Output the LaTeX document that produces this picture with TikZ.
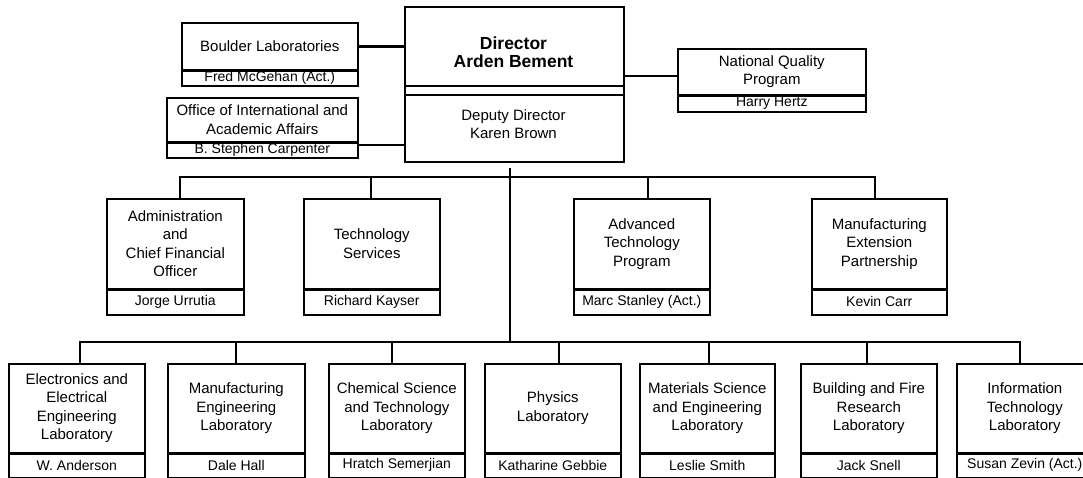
\documentclass[tikz,border=0pt]{standalone}
\usepackage{fontspec}
\setmainfont{Liberation Sans}
\tikzset{
  ttl/.style={draw, line width=1.6pt, align=center, inner sep=0pt, anchor=north west, font=\fontsize{15}{18.5}\selectfont},
  nm/.style={draw, line width=1.6pt, inner sep=0pt, anchor=north west, font=\fontsize{14}{16}\selectfont},
  divl/.style={line width=2.8pt},
  conn/.style={line width=2.4pt},
  txt/.style={align=center, inner sep=0pt, font=\fontsize{15}{18.5}\selectfont},
}
\newcommand\obox[8]{%
  \node[ttl, minimum width={(#4-#2)*1pt}, minimum height={(#5-#3)*1pt}] (#1) at (#2,#3) {#7};
  \node[nm, minimum width={(#4-#2)*1pt}, minimum height={(#6-#5)*1pt}] (#1n) at (#2,#5) {#8};
  \draw[divl] (#1.south west) -- (#1.south east);
}
\begin{document}
\begin{tikzpicture}[x=1pt, y=-1pt]
\useasboundingbox (0,0) rectangle (1083,478);
\fill[white] (0,0) rectangle (1083,478);
\clip (0,0) rectangle (1083,478);

% Director
\node[draw, line width=1.6pt, minimum width=219pt, minimum height=155pt, anchor=north west, inner sep=0pt] (dir) at (404,6) {};
\draw[line width=1.4pt] (404,86) -- (623,86);
\draw[line width=2.4pt] (404,95) -- (623,95);
\node[txt, font=\fontsize{17.5}{18}\selectfont\bfseries] (dirn) at (513.5,52) {Director\\Arden Bement};
\node[txt] (dep) at (513.5,124) {Deputy Director\\Karen Brown};

% side boxes
\obox{bl}{181}{22}{357}{69}{85}{Boulder Laboratories}{Fred McGehan (Act.)}
\obox{oia}{166}{97}{357}{141}{157}{Office of International and\\Academic Affairs}{B. Stephen Carpenter}
\obox{nqp}{677}{48}{865}{94}{111}{National Quality\\Program}{Harry Hertz}

% middle row
\obox{adm}{106}{198}{243}{288}{314}{Administration\\and\\Chief Financial\\Officer}{Jorge Urrutia}
\obox{ts}{303}{198}{439}{288}{314}{Technology\\Services}{Richard Kayser}
\obox{atp}{573}{198}{709}{288}{314}{Advanced\\Technology\\Program}{Marc Stanley (Act.)}
\obox{mep}{811}{198}{946}{288}{314}{Manufacturing\\Extension\\Partnership}{Kevin Carr}

% bottom row
\obox{eeel}{8}{363}{144}{452}{477}{Electronics and\\Electrical\\Engineering\\Laboratory}{W. Anderson}
\obox{mel}{167}{363}{304}{452}{477}{Manufacturing\\Engineering\\Laboratory}{Dale Hall}
\obox{cstl}{328}{363}{464}{452}{477}{Chemical Science\\and Technology\\Laboratory}{Hratch Semerjian}
\obox{pl}{484}{363}{620}{452}{477}{Physics\\Laboratory}{Katharine Gebbie}
\obox{msel}{639}{363}{774}{452}{477}{Materials Science\\and Engineering\\Laboratory}{Leslie Smith}
\obox{bfrl}{800}{363}{936}{452}{477}{Building and Fire\\Research\\Laboratory}{Jack Snell}
\obox{itl}{956}{363}{1092}{452}{477}{Information\\Technology\\Laboratory}{Susan Zevin (Act.)}

% side connectors
\draw[line width=3pt] (bl.east) -- (bl.east -| dir.west);
\coordinate (o1) at ([yshift=-2pt]oia.south east);
\draw[line width=2pt] (o1) -- (o1 -| dir.west);
\coordinate (q1) at ([yshift=-4pt]nqp.west);
\draw[line width=1.6pt] (q1) -- (q1 -| dir.east);

% trunk and buses
\coordinate (tt) at (510,168);
\coordinate (mb) at (510,177);
\coordinate (lb) at (510,342);
\draw[conn] (tt) -- (lb);

\draw[conn] ([xshift=4.5pt]adm.north) |- (mb);
\draw[conn] ([xshift=-1pt]ts.north) |- (mb);
\draw[conn] ([xshift=6pt]atp.north) |- (mb);
\draw[conn] ([xshift=-4.5pt]mep.north) |- (mb);

\draw[conn] ([xshift=3pt]eeel.north) |- (lb);
\draw[conn] ([xshift=-0.5pt]mel.north) |- (lb);
\draw[conn] ([xshift=-5pt]cstl.north) |- (lb);
\draw[conn] ([xshift=6pt]pl.north) |- (lb);
\draw[conn] ([xshift=1.5pt]msel.north) |- (lb);
\draw[conn] ([xshift=-2pt]bfrl.north) |- (lb);
\draw[conn] ([xshift=-5pt]itl.north) |- (lb);
\end{tikzpicture}
\end{document}
